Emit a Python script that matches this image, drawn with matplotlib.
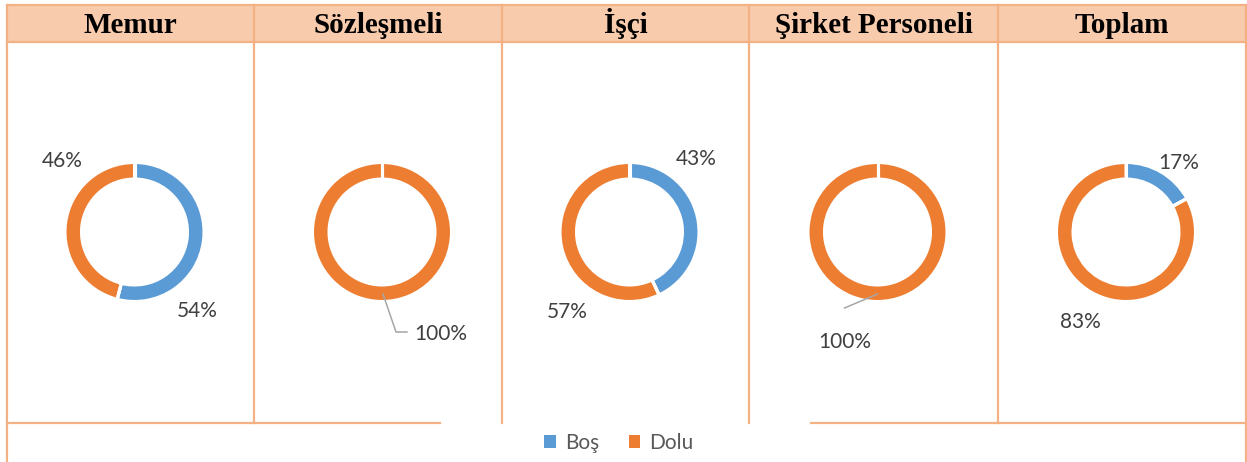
import numpy as np
import matplotlib.pyplot as plt
from matplotlib.patches import Rectangle, Patch

categories = ['Memur', 'Sözleşmeli', 'İşçi', 'Şirket Personeli', 'Toplam']
series = ['Boş', 'Dolu']
bos = [54, 0, 43, 0, 17]
dolu = [46, 100, 57, 100, 83]

# label offsets from the donut centre (px, y down), one pair per chart
label_pos = [
    {'Boş': (63, 79), 'Dolu': (-72, -71)},
    {'Dolu': (59, 102)},
    {'Boş': (67, -73), 'Dolu': (-62, 80)},
    {'Dolu': (-33, 110)},
    {'Boş': (53, -69), 'Dolu': (-46, 90)},
]
leaders = [None, [(1, 62), (14, 100), (25, 100)], None, [(0, 62), (-33, 76)], None]

W, H = 1247, 462
col_edges = [7, 254, 502, 749, 998, 1246]
head_top, head_bot, body_bot = 5, 42, 423
cy = 232
radius, ring = 69.5, 16.5

blue, orange = '#5B9BD5', '#ED7D31'
line_c, head_c = '#F4B183', '#F8CBAD'

fig = plt.figure(figsize=(W / 100, H / 100), dpi=100)
ax = fig.add_axes([0, 0, 1, 1])


def Y(y):
    return H - y


# header row
ax.add_patch(Rectangle((col_edges[0], Y(head_bot)), col_edges[-1] - col_edges[0],
                       head_bot - head_top, facecolor=head_c, edgecolor='none'))
lw = 1.6
ax.plot([col_edges[0], col_edges[-1]], [Y(head_top)] * 2, color=line_c, lw=lw)
ax.plot([col_edges[0], col_edges[-1]], [Y(head_bot)] * 2, color=line_c, lw=lw)
for i, x in enumerate(col_edges):
    outer = i in (0, len(col_edges) - 1)
    ax.plot([x, x], [Y(head_top), 0 if outer else Y(body_bot)], color=line_c, lw=lw)
# bottom rule, broken where the legend sits
ax.plot([col_edges[0], 440], [Y(body_bot)] * 2, color=line_c, lw=lw)
ax.plot([811, col_edges[-1]], [Y(body_bot)] * 2, color=line_c, lw=lw)

for i, name in enumerate(categories):
    x0, x1 = col_edges[i], col_edges[i + 1]
    cx = (x0 + x1) / 2 + 4
    ax.text((x0 + x1) / 2, Y(33), name, ha='center', va='baseline',
            fontsize=21, fontweight='bold', family='Liberation Serif', color='black')

    vals = [bos[i], dolu[i]]
    wedges, _ = ax.pie(vals, colors=[blue, orange], startangle=90, counterclock=False,
                       center=(cx, Y(cy)), radius=radius, frame=True,
                       wedgeprops=dict(width=ring, edgecolor='white', linewidth=2.2))
    # white separators at every slice boundary (also for a full ring)
    for w in wedges:
        for th in (w.theta1, w.theta2):
            a = np.deg2rad(th)
            r0, r1 = radius - ring - 1, radius + 1
            ax.plot([cx + r0 * np.cos(a), cx + r1 * np.cos(a)],
                    [Y(cy) + r0 * np.sin(a), Y(cy) + r1 * np.sin(a)],
                    color='white', lw=2.2, solid_capstyle='butt')

    for s, v in zip(series, vals):
        if s in label_pos[i]:
            dx, dy = label_pos[i][s]
            ax.text(cx + dx, Y(cy + dy), f'{v}%', ha='center', va='center',
                    fontsize=15, family='Lato', color='#404040')
    if leaders[i]:
        pts = leaders[i]
        ax.plot([cx + p[0] for p in pts], [Y(cy + p[1]) for p in pts],
                color='#A6A6A6', lw=1.1)

handles = [Patch(facecolor=blue, edgecolor='none'), Patch(facecolor=orange, edgecolor='none')]
leg = ax.legend(handles, series, loc='center', bbox_to_anchor=(619, Y(443)),
                bbox_transform=ax.transData, ncol=2, frameon=False,
                handlelength=0.55, handleheight=0.55, handletextpad=0.45,
                columnspacing=1.4, prop={'family': 'Lato', 'size': 15})
for t in leg.get_texts():
    t.set_color('#595959')

ax.set_xlim(0, W)
ax.set_ylim(0, H)
ax.set_aspect('auto')
ax.axis('off')

fig.savefig('out.png', dpi=100)
